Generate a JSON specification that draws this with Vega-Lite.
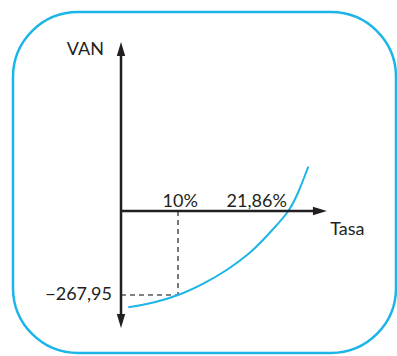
{
  "$schema": "https://vega.github.io/schema/vega-lite/v6.json",
  "width": 397,
  "height": 356,
  "autosize": {"type": "fit", "contains": "padding"},
  "padding": {"left": 13, "top": 12, "right": 1, "bottom": 3},
  "background": "white",
  "config": {
    "view": {"stroke": "#1CB5E8", "strokeWidth": 2.5, "cornerRadius": 65, "fill": "white"},
    "text": {"font": "Lato", "fontSize": 18, "color": "#231F20"}
  },
  "datasets": {
    "curve": [
      {"tasa": 1.28, "van": -307.2},
      {"tasa": 5.67, "van": -291.9},
      {"tasa": 10, "van": -267.95},
      {"tasa": 14.44, "van": -231.3},
      {"tasa": 18.54, "van": -188.2},
      {"tasa": 22.33, "van": -137.2},
      {"tasa": 24.74, "van": -95.7},
      {"tasa": 27.02, "van": -51.0},
      {"tasa": 29.35, "van": 0},
      {"tasa": 31.11, "van": 60.6},
      {"tasa": 32.86, "van": 141.3}
    ],
    "axes": [
      {"x": 0, "x2": 0, "y": 513.6, "y2": -347.7},
      {"x": 0, "x2": 34.6, "y": 0, "y2": 0}
    ],
    "arrows": [
      {"x": 0, "y": 516.7, "dir": "up"},
      {"x": 0, "y": -350.9, "dir": "down"},
      {"x": 34.9, "y": 0, "dir": "right"}
    ],
    "dashes": [
      {"x": 10, "x2": 10, "y": 0, "y2": -267.95},
      {"x": 0, "x2": 10, "y": -267.95, "y2": -267.95}
    ],
    "labelsRight": [
      {"x": -2.98, "y": 513.6, "text": "VAN"},
      {"x": -1.58, "y": -267.95, "text": "−267,95"}
    ],
    "labelsRightTop": [
      {"x": 29.1, "y": 13.7, "text": "21,86%"}
    ],
    "labelsCenterTop": [
      {"x": 10.4, "y": 13.7, "text": "10%"}
    ],
    "labelsLeft": [
      {"x": 36.7, "y": -60.6, "text": "Tasa"}
    ]
  },
  "encoding": {
    "x": {"type": "quantitative", "scale": {"domain": [-18.95, 48.25], "nice": false, "zero": false}, "axis": null},
    "y": {"type": "quantitative", "scale": {"domain": [-452.9, 634.8], "nice": false, "zero": false}, "axis": null}
  },
  "layer": [
    {
      "data": {"name": "dashes"},
      "mark": {"type": "rule", "color": "#58595B", "strokeWidth": 1.6, "strokeDash": [5, 4]},
      "encoding": {"x": {"field": "x", "type": "quantitative"}, "x2": {"field": "x2"}, "y": {"field": "y", "type": "quantitative"}, "y2": {"field": "y2"}}
    },
    {
      "data": {"name": "curve"},
      "mark": {"type": "line", "color": "#1CB5E8", "strokeWidth": 2, "interpolate": "natural"},
      "encoding": {"x": {"field": "tasa", "type": "quantitative"}, "y": {"field": "van", "type": "quantitative"}}
    },
    {
      "data": {"name": "axes"},
      "mark": {"type": "rule", "color": "#231F20", "strokeWidth": 2.5},
      "encoding": {"x": {"field": "x", "type": "quantitative"}, "x2": {"field": "x2"}, "y": {"field": "y", "type": "quantitative"}, "y2": {"field": "y2"}}
    },
    {
      "data": {"name": "arrows"},
      "mark": {"type": "point", "filled": true, "color": "#231F20", "opacity": 1, "size": 196, "strokeWidth": 0},
      "encoding": {
        "x": {"field": "x", "type": "quantitative"},
        "y": {"field": "y", "type": "quantitative"},
        "shape": {"field": "dir", "type": "nominal", "legend": null,
          "scale": {"domain": ["up", "down", "right"], "range": ["M0,-1L0.6,1L-0.6,1Z", "M0,1L0.6,-1L-0.6,-1Z", "M1,0L-1,0.6L-1,-0.6Z"]}}
      }
    },
    {
      "data": {"name": "labelsRight"},
      "mark": {"type": "text", "align": "right", "baseline": "middle"},
      "encoding": {"x": {"field": "x", "type": "quantitative"}, "y": {"field": "y", "type": "quantitative"}, "text": {"field": "text"}}
    },
    {
      "data": {"name": "labelsRightTop"},
      "mark": {"type": "text", "align": "right", "baseline": "alphabetic"},
      "encoding": {"x": {"field": "x", "type": "quantitative"}, "y": {"field": "y", "type": "quantitative"}, "text": {"field": "text"}}
    },
    {
      "data": {"name": "labelsCenterTop"},
      "mark": {"type": "text", "align": "center", "baseline": "alphabetic"},
      "encoding": {"x": {"field": "x", "type": "quantitative"}, "y": {"field": "y", "type": "quantitative"}, "text": {"field": "text"}}
    },
    {
      "data": {"name": "labelsLeft"},
      "mark": {"type": "text", "align": "left", "baseline": "middle"},
      "encoding": {"x": {"field": "x", "type": "quantitative"}, "y": {"field": "y", "type": "quantitative"}, "text": {"field": "text"}}
    }
  ]
}
